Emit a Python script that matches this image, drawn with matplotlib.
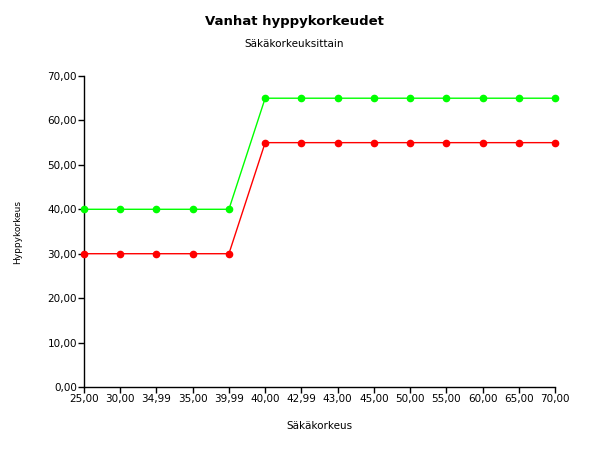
import matplotlib
matplotlib.use("Agg")
import matplotlib.pyplot as plt
from matplotlib.ticker import FuncFormatter

# data
categories = ["25,00", "30,00", "34,99", "35,00", "39,99", "40,00", "42,99",
              "43,00", "45,00", "50,00", "55,00", "60,00", "65,00", "70,00"]
green_values = [40, 40, 40, 40, 40, 65, 65, 65, 65, 65, 65, 65, 65, 65]
red_values = [30, 30, 30, 30, 30, 55, 55, 55, 55, 55, 55, 55, 55, 55]
y_ticks = [0, 10, 20, 30, 40, 50, 60, 70]

fig = plt.figure(figsize=(5.89, 4.49), dpi=100)
ax = fig.add_axes([84 / 589, 62 / 449, 471 / 589, 311 / 449])

x = list(range(len(categories)))
ax.plot(x, green_values, color="#00ff00", linewidth=1, marker="o",
        markersize=4.5, zorder=3, clip_on=False)
ax.plot(x, red_values, color="#ff0000", linewidth=1, marker="o",
        markersize=4.5, zorder=3, clip_on=False)

ax.set_xlim(0, len(categories) - 1)
ax.set_ylim(0, 70)
ax.set_xticks(x)
ax.set_xticklabels(categories)
ax.set_yticks(y_ticks)
ax.yaxis.set_major_formatter(FuncFormatter(lambda v, p: f"{v:.2f}".replace(".", ",")))

for side in ("top", "right"):
    ax.spines[side].set_visible(False)
for side in ("left", "bottom"):
    ax.spines[side].set_color("black")
    ax.spines[side].set_linewidth(1)
ax.tick_params(axis="both", direction="out", length=4, width=1,
               labelsize=7.5, colors="black", pad=1)

ax.set_xlabel("Säkäkorkeus", fontsize=7.5, labelpad=12)
ax.set_ylabel("Hyppykorkeus", fontsize=6.5, labelpad=18)

fig.text(0.5, 1 - 21 / 449, "Vanhat hyppykorkeudet", ha="center", va="center",
         fontsize=9.5, fontweight="bold")
fig.text(0.5, 1 - 44 / 449, "Säkäkorkeuksittain", ha="center", va="center",
         fontsize=7.5)

fig.savefig("out.png", dpi=100, facecolor="white")
